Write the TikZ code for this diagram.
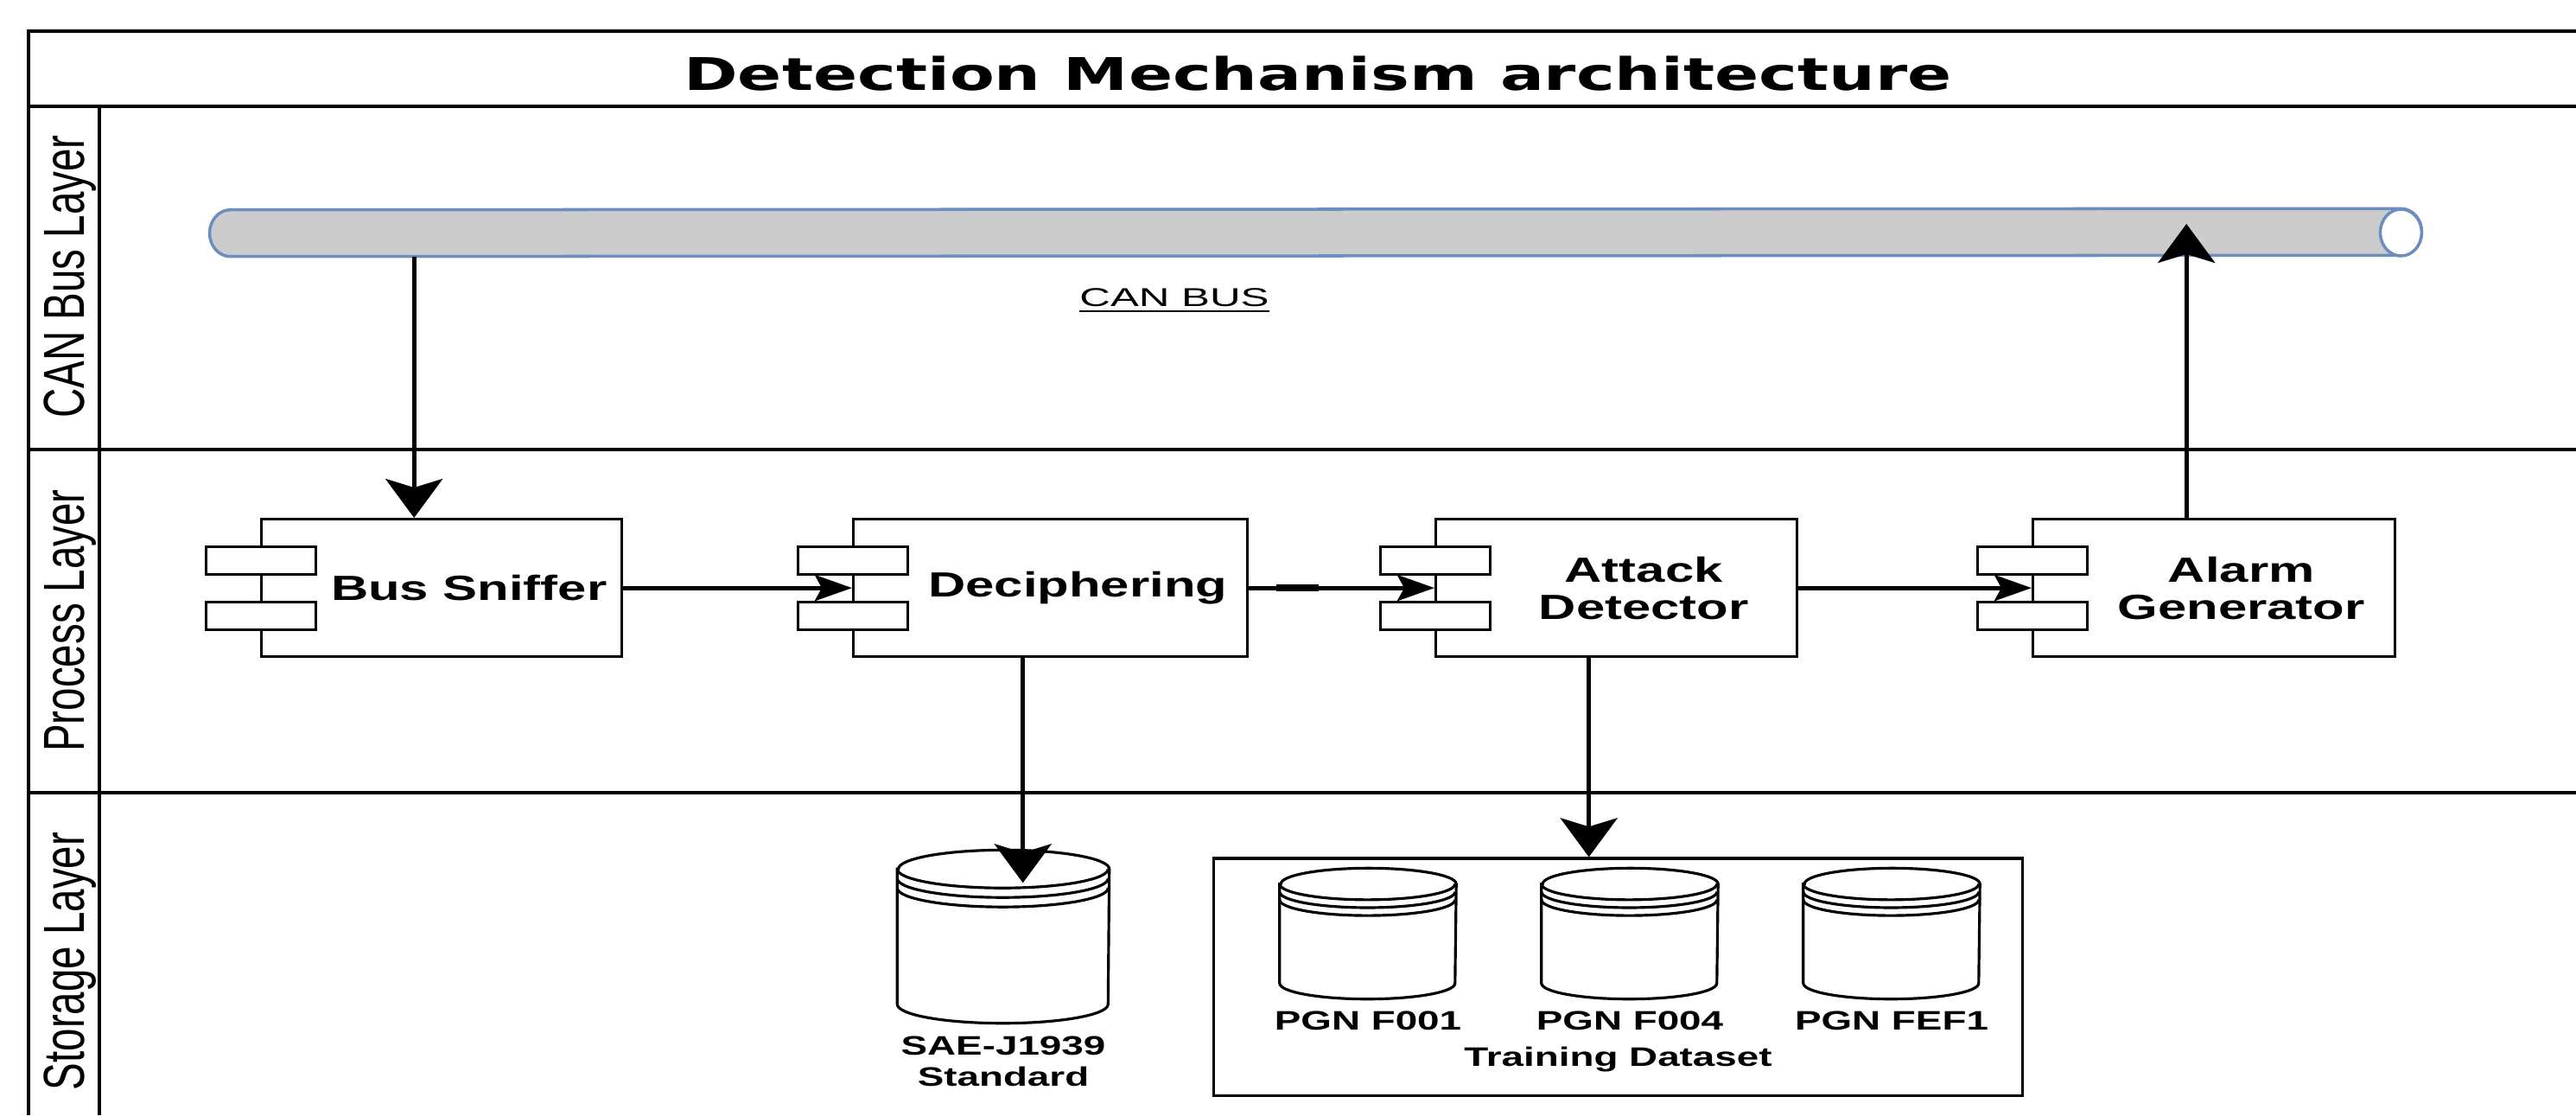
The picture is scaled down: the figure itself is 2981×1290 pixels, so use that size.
\documentclass[tikz,border=0pt]{standalone}
\usepackage{fontspec}
\setmainfont{Liberation Sans}
\newfontfamily\lblfont[FakeStretch=1.48]{Liberation Sans}
\newfontfamily\canfont[FakeStretch=1.65]{Liberation Sans}
\newfontfamily\headfont[FakeStretch=1.45]{DejaVu Sans}
\usepackage{tikz}
\usetikzlibrary{arrows.meta,positioning,calc}
\usepackage{xcolor}
\definecolor{busgray}{RGB}{204,204,204}
\definecolor{busblue}{RGB}{108,142,191}
\tikzstyle{laneline} = [line width=0.9pt]
\tikzstyle{lanetitle} = [rotate=90, inner sep=0pt, font=\fontsize{13.5}{15}\selectfont]
\tikzstyle{comp} = [draw, line width=0.9pt, fill=white, minimum height=1.59cm, inner sep=0pt]
\tikzstyle{port} = [draw, line width=0.9pt, fill=white, minimum width=1.27cm, minimum height=0.32cm, inner sep=0pt]
\tikzstyle{boxtext} = [inner sep=0pt, align=center, font=\lblfont\bfseries\fontsize{11.5}{12.2}\selectfont]
\tikzstyle{dslabel} = [inner sep=0pt, align=center, font=\lblfont\bfseries\fontsize{8.8}{10.5}\selectfont]
\tikzstyle{store} = [line width=0.9pt, fill=white]
\tikzstyle{tbox} = [draw, line width=0.9pt, inner sep=0pt]
\tikzstyle{pipe} = [line width=1pt, draw=busblue, fill=busgray]
\tikzstyle{varrow} = [line width=1.4pt, -{Stealth[length=0.45cm, width=0.66cm, inset=0.1cm]}]
\tikzstyle{harrow} = [line width=1.4pt, -{Stealth[length=0.43cm, width=0.3cm, inset=0.08cm]}]

% component box: id, left x, width, text
\newcommand{\procbox}[4]{%
  \node[comp, minimum width=#3, anchor=north west] (#1) at (#2,-599) {};
  \node[port, anchor=north west] (#1-p1) at ([xshift=-0.64cm, yshift=-0.32cm]#1.north west) {};
  \node[port, anchor=north west] (#1-p2) at ([xshift=-0.64cm, yshift=-0.96cm]#1.north west) {};
  \node[boxtext] (#1-txt) at ([xshift=0.315cm]#1.center) {#4};
  \coordinate (#1-top) at ([xshift=-0.32cm]#1.north);
  \coordinate (#1-bot) at ([xshift=-0.32cm]#1.south);
}

% database cylinder: id, center x, top y, width, height
\newcommand{\datastore}[5]{%
  \node[inner sep=0pt, minimum width=#4*0.01cm, minimum height=#5*0.01cm] (#1) at (#2,{-#3-#5/2}) {};
  \pgfmathsetmacro{\dsr}{0.09*#4}
  \pgfmathsetmacro{\dsx}{#4/2}
  \pgfmathsetmacro{\dsd}{0.045*#4}
  \draw[store] ($(#1.north west)+(0,-\dsr)$) -- ($(#1.south west)+(0,\dsr)$)
    arc[start angle=180, end angle=360, x radius=\dsx, y radius=\dsr]
    -- ($(#1.north east)+(0,-\dsr)$)
    arc[start angle=0, end angle=180, x radius=\dsx, y radius=\dsr] -- cycle;
  \foreach \k in {0,1,2}
    \draw[store, fill=none] ($(#1.north west)+(0,-\dsr-\k*\dsd)$)
      arc[start angle=180, end angle=360, x radius=\dsx, y radius=\dsr];
}

\begin{document}
\begin{tikzpicture}[x=0.01cm, y=0.01cm]
\useasboundingbox (0,0) rectangle (2981,-1290);

% swimlane frame
\draw[laneline] (33,-1290) -- (33,-36) -- (2981,-36);
\draw[laneline] (33,-123) -- (2981,-123);
\draw[laneline] (33,-520) -- (2981,-520);
\draw[laneline] (33,-917) -- (2981,-917);
\draw[laneline] (115,-123) -- (115,-1290);

\node[font=\headfont\bfseries\fontsize{14.8}{17}\selectfont] (title) at (1525,-85) {Detection Mechanism architecture};

\node[lanetitle] (lane-can) at (81,-320) {\scalebox{1}[1.41]{CAN Bus Layer}};
\node[lanetitle] (lane-proc) at (81,-718) {\scalebox{1}[1.41]{Process Layer}};
\node[lanetitle] (lane-store) at (81,-1112) {\scalebox{1}[1.41]{Storage Layer}};

% CAN bus pipe
\node[minimum width=25.09cm, minimum height=0.54cm, inner sep=0pt] (bus) at (1522.5,-269) {};
\draw[pipe] (bus.north east) arc[start angle=90, end angle=-90, x radius=24, y radius=27]
  -- (bus.south west) arc[start angle=270, end angle=90, x radius=24, y radius=27] -- cycle;
\draw[pipe, fill=white] (bus.east) ellipse[x radius=24, y radius=27];
\node[font=\canfont\fontsize{8.5}{10}\selectfont] (bus-lbl) at (1359,-348) {\underline{CAN BUS}};

% process layer
\procbox{snf}{301}{4.17cm}{Bus Sniffer}
\procbox{dec}{986}{4.56cm}{Deciphering}
\procbox{att}{1660}{4.18cm}{Attack\\Detector}
\procbox{alm}{2351}{4.19cm}{Alarm\\Generator}

% storage layer
\datastore{sae}{1161}{984}{244}{199}
\node[dslabel, below=0.14cm of sae] (sae-lbl) {SAE-J1939\\Standard};

\node[tbox, minimum width=9.35cm, minimum height=2.74cm] (trn) at (1872.5,-1130) {};
\datastore{pgn1}{1583}{1005}{203}{150}
\datastore{pgn2}{1886}{1005}{203}{150}
\datastore{pgn3}{2189}{1005}{203}{150}
\node[dslabel, below=0.13cm of pgn1] (pgn1-lbl) {PGN F001};
\node[dslabel, below=0.13cm of pgn2] (pgn2-lbl) {PGN F004};
\node[dslabel, below=0.13cm of pgn3] (pgn3-lbl) {PGN FEF1};
\node[dslabel, anchor=base] (trn-lbl) at ([yshift=0.35cm]trn.south) {Training Dataset};

% data flow
\draw[varrow] (bus.south -| snf-top) -- (snf-top);
\draw[harrow] (snf.east) -- (dec.west);
\draw[harrow] (dec.east) -- (att.west);
\draw[line width=2.2pt] ([xshift=0.32cm]dec.east) -- ([xshift=0.81cm]dec.east);
\draw[harrow] (att.east) -- (alm.west);
\draw[varrow] (alm-top) -- ($(alm-top |- bus.center)+(0,10)$);
\draw[varrow] (dec-bot) -- ($(dec-bot |- sae.north)+(0,-38)$);
\draw[varrow] (att-bot) -- (att-bot |- trn.north);
\end{tikzpicture}
\end{document}
